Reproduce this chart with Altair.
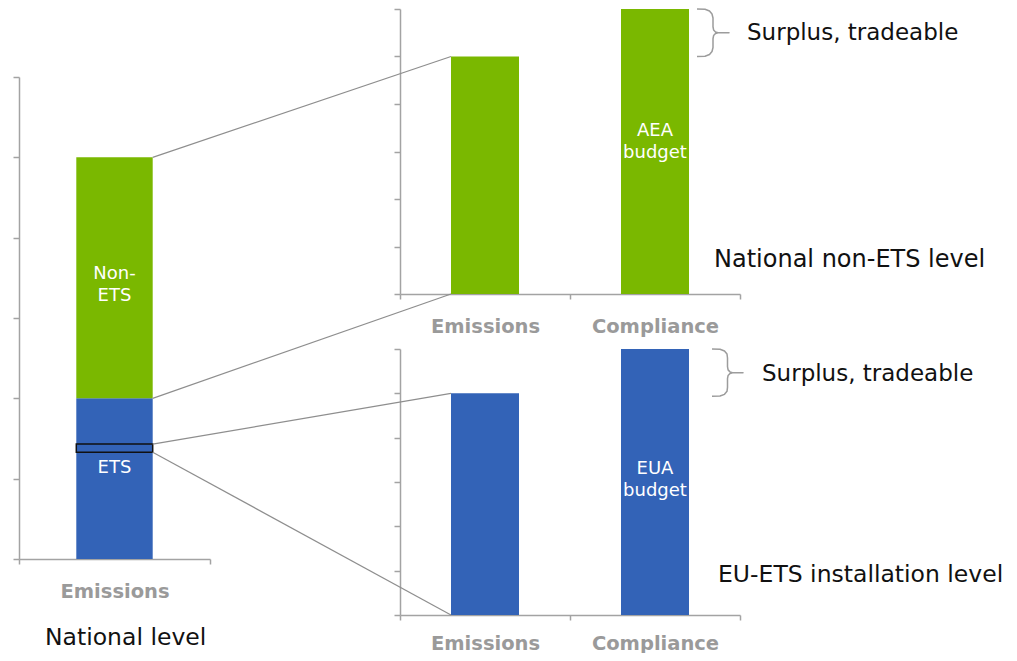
import altair as alt
import pandas as pd

# ---------------- data ----------------
national_category = ["Emissions"]
national_segments = ["ETS", "Non-ETS"]
national_values = [2, 3]
national_labels = ["ETS", "Non-\nETS"]
installation_slice = [1.33, 1.43]

detail_categories = ["Emissions", "Compliance"]
non_ets_values = [5, 6]
ets_values = [5, 6]
budget_labels = ["AEA\nbudget", "EUA\nbudget"]

panel_titles = ["National level", "National non-ETS level", "EU-ETS installation level"]
surplus_label = "Surplus, tradeable"
y_ticks = [0, 1, 2, 3, 4, 5, 6]
Y_MAX = 6

# ---------------- styles ----------------
GREEN = "#7AB800"
BLUE = "#3363B7"
AXIS_GREY = "#A3A3A3"
LABEL_GREY = "#9A9A9A"
LINE_GREY = "#8E8E8E"
FONT = "DejaVu Sans"
W, H = 1001, 645

# panel geometry (scale ranges in plot pixels)
LEFT = {"x": (11, 202), "y": (551, 69)}
TOP = {"x": (392, 732), "y": (286, 1)}
BOTTOM = {"x": (392, 732), "y": (607, 341)}
BAR_FRAC = 0.4


def x_scale(p, cats):
    return alt.Scale(domain=cats, range=list(p["x"]), paddingInner=0, paddingOuter=0)


def y_scale(p):
    return alt.Scale(domain=[0, Y_MAX], range=list(p["y"]), nice=False, zero=True)


def x_axis(p, pad=27):
    return alt.Axis(orient="bottom", offset=p["y"][0] - H, tickBand="extent", tickSize=5,
                    tickColor=AXIS_GREY, tickWidth=1.5, domainColor=AXIS_GREY, domainWidth=1.5,
                    labelFont=FONT, labelFontSize=19.5, labelFontWeight="bold",
                    labelColor=LABEL_GREY, labelPadding=pad, labelBaseline="middle",
                    labelAngle=0, grid=False, title=None)


def y_axis(p):
    return alt.Axis(orient="left", offset=-p["x"][0], values=y_ticks, labels=False,
                    tickSize=6, tickColor=AXIS_GREY, tickWidth=1.5, domainColor=AXIS_GREY,
                    domainWidth=1.5, grid=False, title=None)


# helpers mirroring the scales above (for annotation geometry)
def bar_edge(p, cats, cat, side):
    band = (p["x"][1] - p["x"][0]) / len(cats)
    i = cats.index(cat)
    return p["x"][0] + (i + 0.5 + side * BAR_FRAC / 2) * band


def ypix(p, v):
    return p["y"][0] + (p["y"][1] - p["y"][0]) * v / Y_MAX


def bar_label(df_cat, label, mid, dy):
    return alt.Chart(pd.DataFrame({"category": [df_cat], "label": [label], "mid": [mid]})).mark_text(
        font=FONT, fontSize=18, color="white", lineBreak="\n", lineHeight=22, baseline="middle", dy=dy
    ).encode(x=alt.X("category:N", title=None), y=alt.Y("mid:Q", title=None), text="label:N")


# ---------------- left panel ----------------
left_df = pd.DataFrame({
    "category": national_category * len(national_segments),
    "segment": national_segments,
    "value": national_values,
    "order": list(range(len(national_segments))),
})
left_bars = alt.Chart(left_df).mark_bar(width=alt.RelativeBandSize(BAR_FRAC)).encode(
    x=alt.X("category:N", scale=x_scale(LEFT, national_category), axis=x_axis(LEFT), title=None),
    y=alt.Y("value:Q", stack="zero", scale=y_scale(LEFT), axis=y_axis(LEFT), title=None),
    color=alt.Color("segment:N", scale=alt.Scale(domain=national_segments, range=[BLUE, GREEN]), legend=None),
    order=alt.Order("order:Q"),
)
slice_df = pd.DataFrame({"category": national_category, "lo": [installation_slice[0]], "hi": [installation_slice[1]]})
left_rect = alt.Chart(slice_df).mark_bar(
    width=alt.RelativeBandSize(BAR_FRAC), fillOpacity=0, stroke="#111111", strokeWidth=1.5
).encode(x=alt.X("category:N", title=None), y=alt.Y("lo:Q", title=None), y2="hi:Q")

starts = [sum(national_values[:i]) for i in range(len(national_values))]
left_labels = [
    bar_label(national_category[0], national_labels[0], starts[0] + national_values[0] / 2, -11),
    bar_label(national_category[0], national_labels[1], starts[1] + national_values[1] / 2, -4),
]
left_panel = alt.layer(left_bars, left_rect, *left_labels)


# ---------------- right panels ----------------
def detail_panel(p, values, color, label, dy, pad):
    df = pd.DataFrame({"category": detail_categories, "value": values})
    bars = alt.Chart(df).mark_bar(width=alt.RelativeBandSize(BAR_FRAC), color=color).encode(
        x=alt.X("category:N", sort=detail_categories, scale=x_scale(p, detail_categories),
                axis=x_axis(p, pad), title=None),
        y=alt.Y("value:Q", scale=y_scale(p), axis=y_axis(p), title=None),
    )
    lab = bar_label(detail_categories[1], label, values[1] / 2, dy)
    return alt.layer(bars, lab)


top_panel = detail_panel(TOP, non_ets_values, GREEN, budget_labels[0], -21, 27)
bottom_panel = detail_panel(BOTTOM, ets_values, BLUE, budget_labels[1], -13, 23)

# ---------------- connectors ----------------
lx = bar_edge(LEFT, national_category, "Emissions", 1)
tx = bar_edge(TOP, detail_categories, "Emissions", -1)
bx = bar_edge(BOTTOM, detail_categories, "Emissions", -1)
conn_df = pd.DataFrame({
    "x": [lx, lx, lx, lx],
    "y": [ypix(LEFT, national_values[0] + national_values[1]), ypix(LEFT, national_values[0]),
          ypix(LEFT, installation_slice[1]), ypix(LEFT, installation_slice[0])],
    "x2": [tx, tx, bx, bx],
    "y2": [ypix(TOP, non_ets_values[0]), ypix(TOP, 0), ypix(BOTTOM, ets_values[0]), ypix(BOTTOM, 0)],
})
connectors = alt.Chart(conn_df).mark_rule(color=LINE_GREY, strokeWidth=1.2).encode(
    x=alt.X("x:Q", scale=None, axis=None), y=alt.Y("y:Q", scale=None, axis=None),
    x2="x2:Q", y2="y2:Q",
)


# ---------------- braces ----------------
def brace_points(name, x0, yt, yb, w=32):
    x1 = x0 + w / 2
    x2 = x0 + w
    ym = (yt + yb) / 2
    upper = [(x0, yt), (x0 + 8, yt + 0.3), (x0 + 12.5, yt + 2), (x0 + 15, yt + 5), (x1, yt + 9),
             (x1, ym - 6), (x1 + 0.6, ym - 2.8), (x1 + 2.5, ym - 0.8), (x1 + 5, ym), (x2, ym)]
    lower = [(x1 + 5, ym), (x1 + 2.5, ym + 0.8), (x1 + 0.6, ym + 2.8), (x1, ym + 6), (x1, yb - 9),
             (x0 + 15, yb - 5), (x0 + 12.5, yb - 2), (x0 + 8, yb - 0.3), (x0, yb)]
    pts = upper + lower
    return pd.DataFrame({"brace": name, "i": range(len(pts)),
                         "x": [q[0] for q in pts], "y": [q[1] for q in pts]})


tcx = bar_edge(TOP, detail_categories, "Compliance", 1)
bcx = bar_edge(BOTTOM, detail_categories, "Compliance", 1)
brace_df = pd.concat([
    brace_points("top", tcx + 8, ypix(TOP, non_ets_values[1]), ypix(TOP, non_ets_values[0])),
    brace_points("bottom", bcx + 23, ypix(BOTTOM, ets_values[1]), ypix(BOTTOM, ets_values[0]) + 3, 31),
])
braces = alt.Chart(brace_df).mark_line(color="#9C9C9C", strokeWidth=1.5, strokeJoin="round").encode(
    x=alt.X("x:Q", scale=None, axis=None), y=alt.Y("y:Q", scale=None, axis=None),
    detail="brace:N", order="i:Q",
)


# ---------------- annotation texts ----------------
def note(text, x, y, size):
    return alt.Chart(pd.DataFrame({"t": [text]})).mark_text(
        font=FONT, fontSize=size, color="#111111", align="left", baseline="middle"
    ).encode(x=alt.value(x), y=alt.value(y), text="t:N")


notes = [
    note(surplus_label, 739, 25, 23),
    note(surplus_label, 754, 366, 23),
    note(panel_titles[1], 706, 252, 24),
    note(panel_titles[2], 710, 567, 23.5),
    note(panel_titles[0], 37, 630, 23.5),
]

chart = alt.layer(
    left_panel, top_panel, bottom_panel, connectors, braces, *notes
).resolve_scale(x="independent", y="independent").resolve_axis(
    x="independent", y="independent"
).properties(
    width=W, height=H, autosize=alt.AutoSizeParams(type="none"), padding=0, background="white"
).configure_view(stroke=None, strokeWidth=0)

chart.save("out.html", embed_options={"renderer": "svg", "actions": False})
